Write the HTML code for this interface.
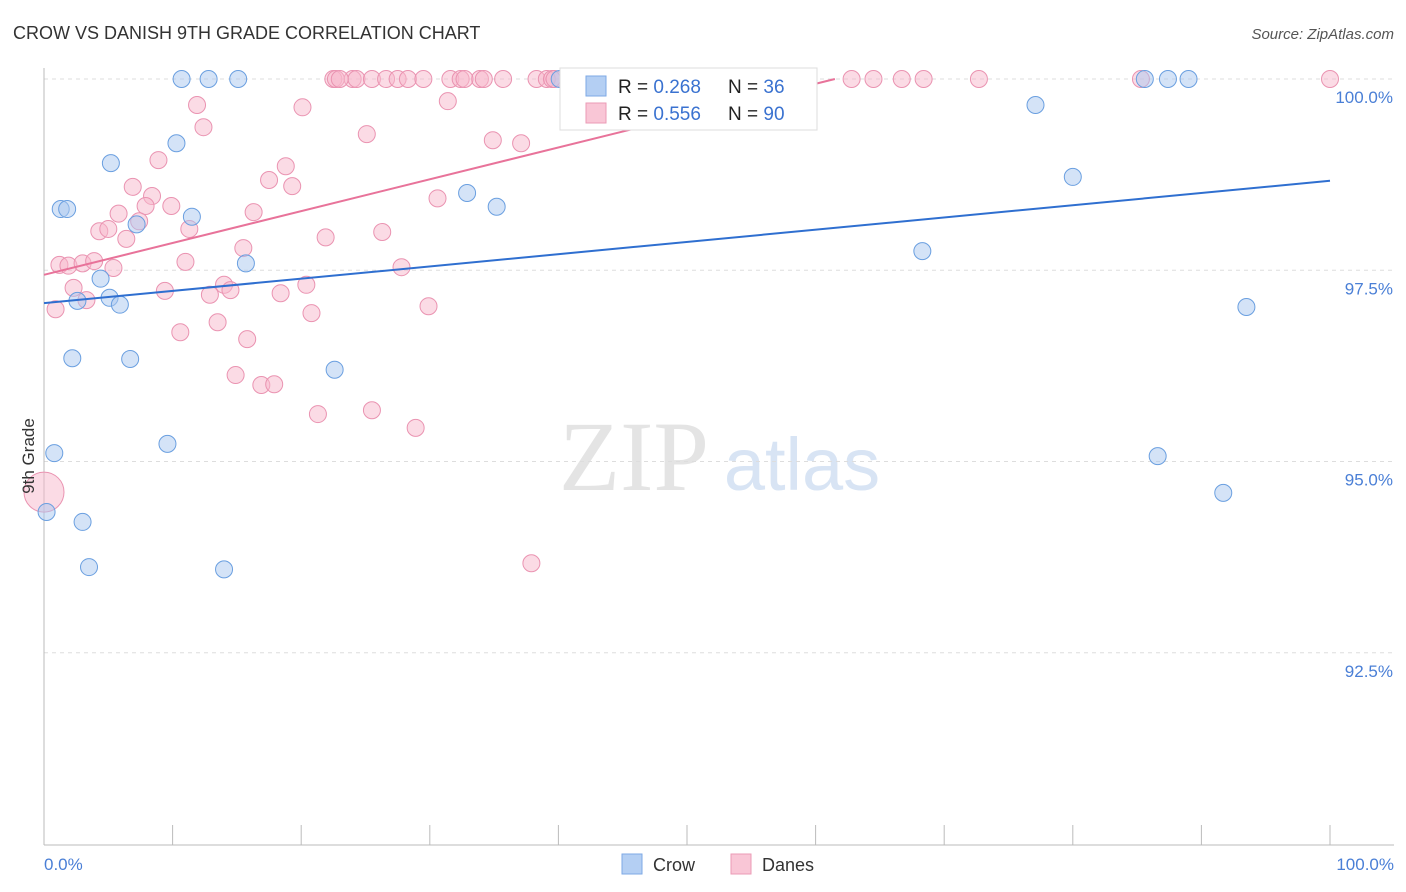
<!DOCTYPE html>
<html><head><meta charset="utf-8"><style>
body{margin:0;background:#fff;font-family:"Liberation Sans",sans-serif;}
svg{display:block}
</style></head><body>
<svg id="chart" width="1406" height="892">
<text x="13" y="39" font-size="18" fill="#333">CROW VS DANISH 9TH GRADE CORRELATION CHART</text>
<text x="1394" y="39" font-size="15" fill="#555" font-style="italic" text-anchor="end">Source: ZipAtlas.com</text>
<text x="634" y="490" font-size="100" fill="#e4e4e4" font-family="Liberation Serif" text-anchor="middle">ZIP</text>
<text x="802" y="490" font-size="74" fill="#d8e4f4" text-anchor="middle">atlas</text>
<g id="grid"></g>
<g id="axes"></g>
<g id="pts"></g>
<g id="lines"></g>
<text x="34" y="456" font-size="17" fill="#333" transform="rotate(-90 34 456)" text-anchor="middle">9th Grade</text>
<g>
<rect x="560" y="68" width="257" height="62" fill="#fff" stroke="#ddd"/>
<rect x="586" y="76" width="20" height="20" fill="#b4cff3" stroke="#7ea9e6"/>
<rect x="586" y="103" width="20" height="20" fill="#f9c6d6" stroke="#eb9bb6"/>
<text x="618" y="93" font-size="19" fill="#222">R = <tspan fill="#3a72d0">0.268</tspan></text>
<text x="728" y="93" font-size="19" fill="#222">N = <tspan fill="#3a72d0">36</tspan></text>
<text x="618" y="120" font-size="19" fill="#222">R = <tspan fill="#3a72d0">0.556</tspan></text>
<text x="728" y="120" font-size="19" fill="#222">N = <tspan fill="#3a72d0">90</tspan></text>
</g>
<g>
<rect x="622" y="854" width="20" height="20" fill="#b4cff3" stroke="#7ea9e6"/>
<text x="653" y="871" font-size="18" fill="#333">Crow</text>
<rect x="731" y="854" width="20" height="20" fill="#f9c6d6" stroke="#eb9bb6"/>
<text x="762" y="871" font-size="18" fill="#333">Danes</text>
</g>
</svg>
<script>
const yTicks=[100,97.5,95,92.5];
const yTickLabels=["100.0%","97.5%","95.0%","92.5%"];
const crowX=[10.7,12.8,15.1,40.1,56.5,85.6,87.4,89.0,77.1,10.3,5.2,32.9,35.2,80.0,1.3,1.8,11.5,7.2,68.3,15.7,4.4,2.6,5.1,5.9,93.5,2.2,6.7,22.6,0.8,9.6,86.6,0.2,3.0,91.7,3.5,14.0];
const crowY=[100,100,100,100,100,100,100,100,99.66,99.16,98.9,98.51,98.33,98.72,98.30,98.30,98.20,98.10,97.75,97.59,97.39,97.10,97.14,97.05,97.02,96.35,96.34,96.20,95.11,95.23,95.07,94.34,94.21,94.59,93.62,93.59];
const danesX=[22.5,22.7,24.0,24.3,25.5,26.6,27.5,28.3,29.5,31.6,32.4,33.9,34.2,35.7,38.3,39.1,39.5,41.7,44.6,46.0,47.7,51.0,52.1,54.2,62.8,64.5,66.7,68.4,72.7,85.3,100,43.2,52.6,39.7,32.7,23.0,
11.9,20.1,31.4,12.4,25.1,34.9,37.1,8.9,18.8,17.5,6.9,19.3,8.4,30.6,7.9,9.9,16.3,5.8,7.4,4.3,5.0,11.3,26.3,21.9,6.4,15.5,1.2,1.9,3.0,3.9,5.4,11.0,27.8,2.3,9.4,14.0,14.5,20.4,12.9,18.4,3.3,0.9,29.9,20.8,13.5,10.6,15.8,14.9,16.9,17.9,21.3,25.5,28.9,37.9];
const danesY=[100,100,100,100,100,100,100,100,100,100,100,100,100,100,100,100,100,100,100,100,100,100,100,100,100,100,100,100,100,100,100,100,100,100,100,100,
99.66,99.63,99.71,99.37,99.28,99.20,99.16,98.94,98.86,98.68,98.59,98.60,98.47,98.44,98.34,98.34,98.26,98.24,98.14,98.01,98.04,98.04,98.00,97.93,97.91,97.79,97.57,97.56,97.59,97.62,97.53,97.61,97.54,97.27,97.23,97.31,97.24,97.31,97.18,97.20,97.11,96.99,97.03,96.94,96.82,96.69,96.60,96.13,96.00,96.01,95.62,95.67,95.44,93.67];
const bigDaneX=[0], bigDaneY=[94.6];
const crowLine=[97.07,98.67];
const danesLine=[97.44,100,61.5];
const NS="http://www.w3.org/2000/svg";
const sx=v=>44+v*12.86, sy=v=>79+(100-v)*76.5;
function mk(tag,at,parent){const e=document.createElementNS(NS,tag);for(const k in at)e.setAttribute(k,at[k]);document.getElementById(parent).appendChild(e);return e;}
yTicks.forEach((t,i)=>{
 const g=mk('line',{x1:44,x2:1394,y1:sy(t),y2:sy(t),stroke:'#ddd','stroke-dasharray':'4,4'},'grid');
 
 
 const l=mk('text',{x:1393,y:sy(t)+24,'font-size':17,fill:'#4a7fd6','text-anchor':'end'},'axes');
 l.textContent=yTickLabels[i];
 
 
});
let a=mk('line',{x1:44,x2:44,y1:68,y2:845,stroke:'#bbb'},'axes');


a=mk('line',{x1:44,x2:1394,y1:845,y2:845,stroke:'#bbb'},'axes');


for(let i=0;i<=10;i++){const t=mk('line',{x1:sx(i*10),x2:sx(i*10),y1:825,y2:845,stroke:'#bbb'},'axes');
 
 }
[[0,"0.0%","start",44],[100,"100.0%","end",1394]].forEach(d=>{const t=mk('text',{x:d[3],y:870,'font-size':17,fill:'#4a7fd6','text-anchor':d[2]},'axes');t.textContent=d[1];
 
 });
function pts(X,Y,fill,stroke,name,r){X.forEach((x,i)=>{const c=mk('circle',{cx:sx(x),cy:sy(Y[i]),r:r,fill:fill,'fill-opacity':0.5,stroke:stroke,'stroke-width':1},'pts');
 
 });}
pts(danesX,danesY,'#f7b8cc','#ea93b1','danes-point',8.5);
pts(bigDaneX,bigDaneY,'#f7b8cc','#ea93b1','danes-point',20);
pts(crowX,crowY,'#a9c8f0','#6a9fe0','crow-point',8.5);
let ln=mk('line',{x1:sx(0),y1:sy(crowLine[0]),x2:sx(100),y2:sy(crowLine[1]),stroke:'#2f6fd0','stroke-width':2},'lines');


ln=mk('line',{x1:sx(0),y1:sy(danesLine[0]),x2:sx(danesLine[2]),y2:sy(danesLine[1]),stroke:'#e8739a','stroke-width':2},'lines');


</script>
</body></html>
